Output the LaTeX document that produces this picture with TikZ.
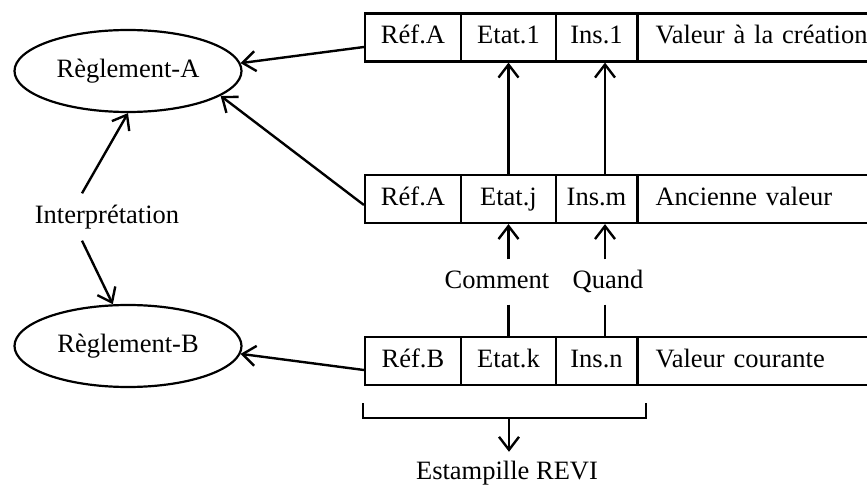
\documentclass[tikz,border=0pt]{standalone}
\usepackage{fontspec}
\setmainfont{Liberation Serif}
\usetikzlibrary{arrows.meta,shapes.geometric}
\begin{document}
\begin{tikzpicture}[x=1pt,y=-1pt,
  every node/.style={font=\fontsize{26.5}{30}\selectfont},
  ln/.style={line width=2.4pt},
  cell/.style={draw,line width=2.2pt,minimum height=48pt,inner sep=0pt,text height=18pt,text depth=5pt},
  valcell/.style={cell,anchor=west,minimum width=263pt,text width=228pt,inner xsep=17.5pt,align=left},
  regl/.style={draw,ellipse,line width=2.2pt,minimum width=227pt,minimum height=82pt,inner sep=0pt},
  lbl/.style={text height=18pt,text depth=5pt},
  arr/.style={line width=2.4pt,-{Straight Barb[length=13pt,width=20pt,line width=2.4pt]}}]
\useasboundingbox (0,0) rectangle (867,489);
\fill[white] (0,0) rectangle (867,489);
\clip (0,0) rectangle (867,489);

% rule nodes
\node[regl] (ea) at (128,71) {Règlement-A};
\node[regl] (eb) at (128,346) {Règlement-B};
\node[lbl,inner ysep=12pt] (interp) at (107,217) {Interprétation};

% row 1 : creation value
\node[cell,minimum width=96pt] (r1ref) at (413,37.5) {Réf.A};
\node[cell,minimum width=95pt] (r1etat) at (508.5,37.5) {Etat.1};
\node[cell,minimum width=81pt] (r1ins) at (596.5,37.5) {Ins.1};
\node[valcell] (r1val) at (637,37.5) {Valeur à la création};

% row 2 : former value
\node[cell,minimum width=96pt] (r2ref) at (413,199) {Réf.A};
\node[cell,minimum width=95pt] (r2etat) at (508.5,199) {Etat.j};
\node[cell,minimum width=81pt] (r2ins) at (596.5,199) {Ins.m};
\node[valcell] (r2val) at (637,199) {Ancienne valeur};

% row 3 : current value
\node[cell,minimum width=96pt] (r3ref) at (413,361) {Réf.B};
\node[cell,minimum width=95pt] (r3etat) at (508.5,361) {Etat.k};
\node[cell,minimum width=81pt] (r3ins) at (596.5,361) {Ins.n};
\node[valcell] (r3val) at (637,361) {Valeur courante};

% labels between rows 2 and 3
\node[lbl,inner ysep=11pt] (cm) at (497,282) {Comment};
\node[lbl,inner ysep=11pt] (qd) at (608,282) {Quand};

% stamp label
\node[lbl,inner ysep=9.5pt] (stamp) at (507,473) {Estampille REVI};

% references to the rules
\draw[arr] ([yshift=-9.5pt]r1ref.west) -- (ea.4);
\draw[arr] ([yshift=-6pt]r2ref.west) -- (ea.-15);
\draw[arr] ([yshift=-9pt]r3ref.west) -- (eb.-4);

% interpretation
\draw[arr] ([xshift=-25pt]interp.north) -- (ea.south);
\draw[arr] ([xshift=-25pt]interp.south) -- (eb.110);

% history links
\draw[arr] (r2etat.north) -- (r1etat.south);
\draw[arr] ([xshift=8.5pt]r2ins.north) -- ([xshift=8.5pt]r1ins.south);
\draw[arr] (r2etat.south |- cm.north) -- (r2etat.south);
\draw[arr] ([xshift=8.5pt]r2ins.south |- qd.north) -- ([xshift=8.5pt]r2ins.south);
\draw[ln] (r3etat.north |- cm.south) -- (r3etat.north);
\draw[ln] ([xshift=8.5pt]r3ins.north |- qd.south) -- ([xshift=8.5pt]r3ins.north);

% stamp bracket
\coordinate (bl) at (363,403);
\coordinate (br) at (646,403);
\coordinate (bm) at (509,418);
\draw[ln] (bl) -- (bl |- bm) -- (br |- bm) -- (br);
\draw[arr] (bm) -- (bm |- stamp.north);
\end{tikzpicture}
\end{document}
